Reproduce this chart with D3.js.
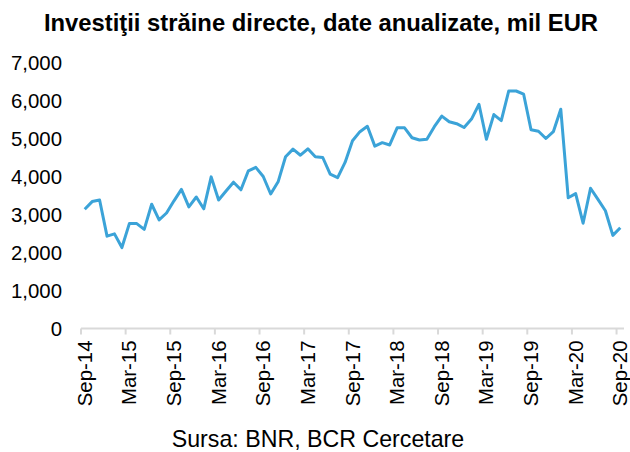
<!DOCTYPE html>
<html>
<head>
<meta charset="utf-8">
<script src="https://cdn.jsdelivr.net/npm/d3@7"></script>
<style>
  html, body { margin: 0; padding: 0; background: #fff; }
  svg { display: block; font-family: "Liberation Sans", Arial, sans-serif; }
</style>
</head>
<body>
<svg id="chart" width="630" height="452"></svg>
<script>
// ── data ──
const startMonth = new Date(2014, 8, 1);   // Sep-14
const endMonth   = new Date(2020, 9, 1);   // exclusive → last is Sep-20
const fdiValues = [
    3140, 3340, 3380, 2430, 2490, 2130, 2760, 2760, 2610, 3270, 2860, 3040,
    3360, 3660, 3200, 3460, 3150, 3990, 3380, 3620, 3850, 3650, 4150, 4240,
    4000, 3540, 3860, 4520, 4720, 4560, 4730, 4520, 4500, 4060, 3970, 4370,
    4940, 5180, 5320, 4800, 4890, 4830, 5280, 5280, 5020, 4960, 4980, 5310,
    5590, 5440, 5390, 5290, 5510, 5900, 4980, 5630, 5470, 6250, 6250, 6170,
    5230, 5190, 5000, 5180, 5770, 3440, 3550, 2770, 3690, 3400, 3100, 2450,
    2650
];
const yTicks = [0, 1000, 2000, 3000, 4000, 5000, 6000, 7000];
const xTickLabels = ["Sep-14", "Mar-15", "Sep-15", "Mar-16", "Sep-16", "Mar-17", "Sep-17",
                     "Mar-18", "Sep-18", "Mar-19", "Sep-19", "Mar-20", "Sep-20"];

const TITLE  = "Investiţii străine directe, date anualizate, mil EUR";
const SOURCE = "Sursa: BNR, BCR Cercetare";

// ── layout ──
const svg = d3.select("#chart");
const X0 = 81, X1 = 624;
const Y0 = 328.5, Y1 = 62.5;
const LINE_C = "#3ba3d8";
const AXIS_C = "#d9d9d9";

const fmtMonth = d3.timeFormat("%b-%y");
const months = d3.timeMonth.range(startMonth, endMonth);
const data = months.map((m, i) => ({ m, label: fmtMonth(m), v: fdiValues[i] }));

const x = d3.scaleBand().domain(data.map(d => d.label)).range([X0, X1]).padding(0);
const y = d3.scaleLinear().domain([0, 7000]).range([Y0, Y1]);

// Title
svg.append("text")
    .attr("x", 321).attr("y", 31)
    .attr("text-anchor", "middle")
    .attr("font-size", "23.8px").attr("font-weight", "bold").attr("fill", "#000")
    .text(TITLE);

// Y axis (labels only, no line)
const yAx = svg.append("g").attr("transform", `translate(${X0 - 19},0)`)
    .call(d3.axisLeft(y).tickValues(yTicks).tickSize(0).tickPadding(0)
        .tickFormat(d3.format(",")));
yAx.select(".domain").remove();
yAx.selectAll("text").attr("font-size", "20.4px").attr("fill", "#000")
    .attr("font-family", "Liberation Sans, Arial, sans-serif");

// X axis
const xAx = svg.append("g").attr("transform", `translate(0,${Y0})`)
    .call(d3.axisBottom(x).tickValues(xTickLabels).tickSize(6).tickPadding(0));
xAx.select(".domain").attr("stroke", AXIS_C).attr("stroke-width", 2)
    .attr("d", `M${X0},0H${X1}`);
xAx.selectAll(".tick line").attr("stroke", AXIS_C).attr("stroke-width", 2)
    .attr("transform", `translate(${-x.bandwidth() / 2},0)`);
xAx.selectAll(".tick text")
    .attr("font-size", "20.4px").attr("fill", "#000")
    .attr("font-family", "Liberation Sans, Arial, sans-serif")
    .attr("text-anchor", "end")
    .attr("dy", null).attr("y", 0)
    .attr("transform", "translate(7,12) rotate(-90)");

// Line
const line = d3.line()
    .x(d => x(d.label) + x.bandwidth() / 2)
    .y(d => y(d.v));
svg.append("path").datum(data)
    .attr("fill", "none").attr("stroke", LINE_C)
    .attr("stroke-width", 3).attr("stroke-linejoin", "round")
    .attr("d", line);

// Source
svg.append("text")
    .attr("x", 318).attr("y", 447)
    .attr("text-anchor", "middle")
    .attr("font-size", "23.2px").attr("fill", "#000")
    .text(SOURCE);
</script>
</body>
</html>
